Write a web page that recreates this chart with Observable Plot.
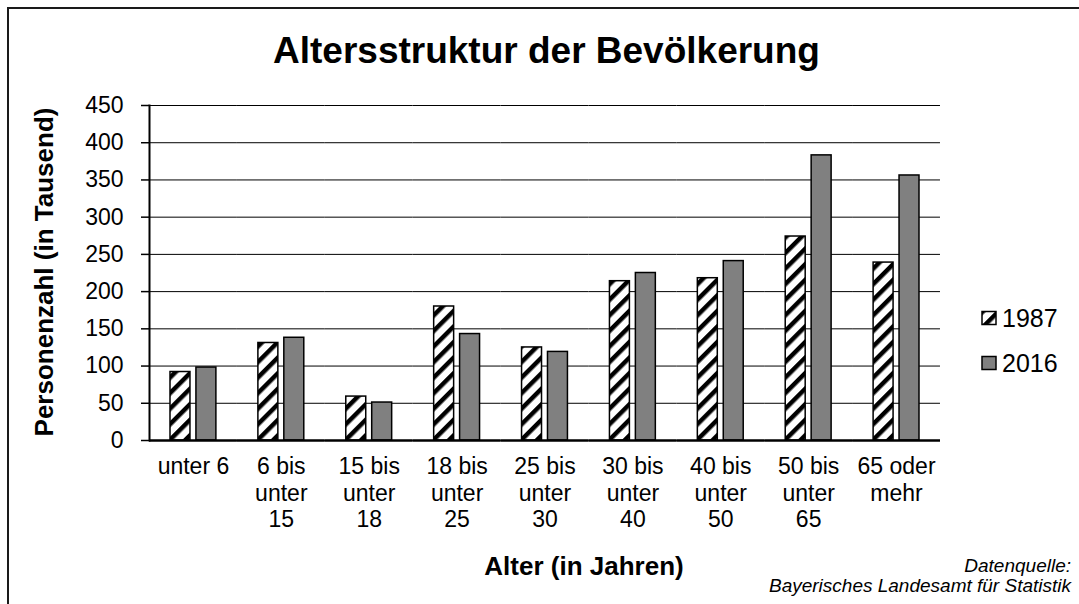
<!DOCTYPE html>
<html><head><meta charset="utf-8">
<script src="https://cdn.jsdelivr.net/npm/d3@7"></script>
<script src="https://cdn.jsdelivr.net/npm/@observablehq/plot@0.6"></script>
<style>
html,body{margin:0;padding:0;background:#fff;overflow:hidden;}
#wrap{position:relative;width:1079px;height:604px;overflow:hidden;font-family:"Liberation Sans",Arial,sans-serif;}
#border{position:absolute;left:7px;top:7px;width:1200px;height:800px;border:2px solid #1a1a1a;box-sizing:border-box;}
#chart{position:absolute;left:0;top:0;}
</style></head><body><div id="wrap"><div id="border"></div><div id="chart"></div></div>
<script>
const categories = ["unter 6","6 bis unter 15","15 bis unter 18","18 bis unter 25","25 bis unter 30","30 bis unter 40","40 bis unter 50","50 bis unter 65","65 oder mehr"];
const tickLabels = ["unter 6","6 bis\nunter\n15","15 bis\nunter\n18","18 bis\nunter\n25","25 bis\nunter\n30","30 bis\nunter\n40","40 bis\nunter\n50","50 bis\nunter\n65","65 oder\nmehr"];
const years = ["1987","2016"];
const values1987 = [92,131,59,180,125,214,218,274,239];
const values2016 = [98,138,51,143,119,225,241,383,356];
const yTicks = [0,50,100,150,200,250,300,350,400,450];

const rows = categories.flatMap((c,i)=>[
  {cat:c, year:years[0], value:values1987[i]},
  {cat:c, year:years[1], value:values2016[i]}
]);
const font = "'Liberation Sans', Arial, sans-serif";

const chart = Plot.plot({
  width:1079, height:604,
  marginLeft:149, marginRight:139, marginTop:105, marginBottom:164,
  style:{fontFamily:font, background:"transparent", color:"#000"},
  fx:{domain:categories, padding:0, round:false, label:null},
  x:{domain:years, paddingInner:0.23, paddingOuter:0.81, round:false, axis:null},
  y:{domain:[0,450], label:null},
  color:{domain:years, range:["url(#hatch)","#808080"]},
  marks:[
    Plot.gridY(yTicks,{stroke:"#000",strokeOpacity:1,strokeWidth:1}),
    Plot.barY(rows,{fx:"cat",x:"year",y:"value",fill:"year",stroke:"#000",strokeWidth:1.5}),
    Plot.ruleY([0],{stroke:"#000",strokeWidth:2.5}),
    Plot.axisY(yTicks,{tickSize:8,tickPadding:18,fontSize:23,stroke:"#000",strokeWidth:1.5,label:null}),
    Plot.axisFx({anchor:"bottom",tickSize:0,tickPadding:14,fontSize:23,lineHeight:1.17,
      tickFormat:(d)=>tickLabels[categories.indexOf(d)],label:null}),
    Plot.frame({anchor:"left",facet:"super",stroke:"#000",strokeWidth:2})
  ]
});

const svg = d3.select(chart);
const defs = svg.insert("defs",":first-child");
const pat = defs.append("pattern").attr("id","hatch").attr("patternUnits","userSpaceOnUse")
  .attr("width",11).attr("height",11).attr("patternTransform","rotate(45)");
pat.append("rect").attr("width",11).attr("height",11).attr("fill","#fff");
pat.append("rect").attr("width",4.5).attr("height",11).attr("fill","#000");

const g = svg.append("g").attr("font-family",font).attr("fill","#000").attr("text-anchor","start");
g.append("text").attr("x",273).attr("y",63).attr("font-size",37).attr("font-weight","bold")
  .attr("text-anchor","start").text("Altersstruktur der Bevölkerung");
g.append("text").attr("transform","translate(53,272) rotate(-90)").attr("text-anchor","middle")
  .attr("font-size",26).attr("font-weight","bold").text("Personenzahl (in Tausend)");
g.append("text").attr("x",584).attr("y",575).attr("text-anchor","middle")
  .attr("font-size",26).attr("font-weight","bold").text("Alter (in Jahren)");
g.append("text").attr("x",1071).attr("y",572).attr("text-anchor","end").attr("font-size",19)
  .attr("font-style","italic").text("Datenquelle:");
g.append("text").attr("x",1071).attr("y",592).attr("text-anchor","end").attr("font-size",19)
  .attr("font-style","italic").text("Bayerisches Landesamt für Statistik");

// legend
const legFill = ["url(#hatch)","#808080"];
years.forEach((yr,i)=>{
  const cy = 318 + i*45;
  g.append("rect").attr("x",982).attr("y",cy-6.5).attr("width",14).attr("height",13)
    .attr("fill",legFill[i]).attr("stroke","#000").attr("stroke-width",1.5);
  g.append("text").attr("x",1002).attr("y",cy+9).attr("font-size",25)
    .attr("text-anchor","start").text(yr);
});

document.getElementById("chart").appendChild(chart);
</script></body></html>
